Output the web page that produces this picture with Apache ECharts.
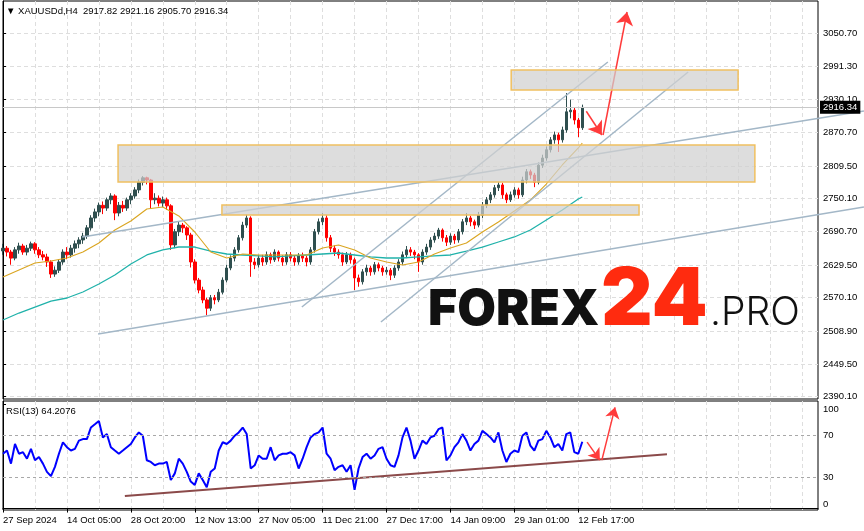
<!DOCTYPE html>
<html><head><meta charset="utf-8">
<script src="https://cdn.jsdelivr.net/npm/echarts@6/dist/echarts.min.js"></script>
<style>html,body{margin:0;padding:0;background:#fff}#c{width:864px;height:531px}</style>
</head><body><div id="c"></div><script>
const xLabels = ['27 Sep 2024','14 Oct 05:00','28 Oct 20:00','12 Nov 13:00','27 Nov 05:00','11 Dec 21:00','27 Dec 17:00','14 Jan 09:00','29 Jan 01:00','12 Feb 17:00'];
const priceTicks = [2390.10,2449.50,2508.90,2570.10,2629.50,2690.70,2750.10,2809.50,2870.70,2930.10,2991.30,3050.70];
const rsiTicks = [0,30,70,100];
const rsiLevels = [30,70];
// [open, close, low, high]
const candles = [
[2655,2660,2648,2668],[2660,2653,2645,2664],[2653,2642,2630,2657],[2642,2657,2638,2662],[2657,2664,2650,2670],
[2664,2653,2648,2668],[2653,2660,2647,2666],[2660,2668,2655,2672],[2668,2657,2650,2671],[2657,2648,2642,2662],
[2648,2644,2638,2655],[2644,2635,2626,2650],[2635,2613,2606,2638],[2613,2620,2608,2627],[2620,2635,2615,2640],
[2635,2653,2630,2658],[2653,2648,2640,2662],[2648,2660,2643,2666],[2660,2668,2652,2674],[2668,2675,2660,2680],
[2675,2682,2668,2688],[2682,2697,2677,2702],[2697,2715,2692,2720],[2715,2726,2708,2732],[2726,2738,2718,2743],
[2738,2733,2722,2745],[2733,2748,2728,2752],[2748,2755,2740,2760],[2755,2724,2711,2758],[2724,2738,2718,2744],
[2738,2733,2726,2746],[2733,2748,2728,2752],[2748,2755,2740,2760],[2755,2766,2750,2771],[2766,2780,2760,2785],
[2780,2788,2774,2791],[2788,2784,2776,2790],[2784,2748,2733,2786],[2748,2751,2740,2760],[2751,2742,2736,2756],
[2742,2748,2735,2754],[2748,2737,2730,2752],[2737,2666,2657,2740],[2666,2690,2660,2695],[2690,2702,2682,2708],
[2702,2697,2688,2706],[2697,2684,2675,2700],[2684,2635,2625,2688],[2635,2602,2596,2640],[2602,2584,2578,2606],
[2584,2566,2560,2590],[2566,2551,2538,2570],[2551,2570,2546,2575],[2570,2566,2558,2575],[2566,2580,2562,2586],
[2580,2602,2576,2607],[2602,2624,2598,2630],[2624,2642,2620,2647],[2642,2657,2636,2662],[2657,2679,2652,2684],
[2679,2702,2674,2708],[2702,2715,2697,2721],[2715,2635,2608,2718],[2635,2630,2622,2642],[2630,2642,2625,2648],
[2642,2635,2628,2648],[2635,2648,2630,2654],[2648,2639,2632,2652],[2639,2653,2635,2658],[2653,2642,2636,2656],
[2642,2635,2628,2647],[2635,2648,2630,2653],[2648,2642,2636,2653],[2642,2635,2628,2647],[2635,2646,2630,2651],
[2646,2642,2635,2652],[2642,2635,2627,2646],[2635,2657,2630,2662],[2657,2690,2652,2695],[2690,2708,2685,2714],
[2708,2715,2702,2724],[2715,2679,2672,2720],[2679,2660,2653,2684],[2660,2653,2646,2665],[2653,2648,2641,2658],
[2648,2635,2628,2652],[2635,2648,2631,2653],[2648,2639,2632,2652],[2639,2606,2584,2643],[2606,2599,2590,2612],
[2599,2617,2594,2622],[2617,2624,2610,2630],[2624,2617,2610,2628],[2617,2630,2612,2635],[2630,2624,2618,2634],
[2624,2617,2610,2628],[2617,2620,2612,2626],[2620,2611,2602,2624],[2611,2624,2606,2629],[2624,2635,2619,2640],
[2635,2648,2630,2654],[2648,2657,2642,2664],[2657,2653,2646,2662],[2653,2648,2640,2657],[2648,2635,2617,2651],
[2635,2653,2630,2658],[2653,2662,2648,2668],[2662,2675,2657,2680],[2675,2682,2670,2688],[2682,2693,2677,2697],
[2693,2679,2672,2696],[2679,2671,2664,2684],[2671,2682,2666,2687],[2682,2675,2668,2686],[2675,2690,2670,2695],
[2690,2708,2685,2713],[2708,2715,2702,2724],[2715,2708,2700,2719],[2708,2702,2695,2712],[2702,2720,2698,2726],
[2720,2738,2715,2744],[2738,2748,2733,2753],[2748,2757,2742,2762],[2757,2770,2752,2775],[2770,2775,2764,2780],
[2775,2757,2750,2779],[2757,2748,2742,2761],[2748,2757,2744,2763],[2757,2766,2752,2771],[2766,2757,2750,2770],
[2757,2784,2753,2790],[2784,2799,2778,2804],[2799,2793,2786,2803],[2793,2780,2771,2797],[2780,2811,2776,2816],
[2811,2824,2806,2830],[2824,2839,2819,2845],[2839,2857,2834,2862],[2857,2866,2850,2872],[2866,2857,2835,2870],
[2857,2875,2852,2881],[2875,2908,2870,2942],[2908,2911,2896,2930],[2911,2893,2885,2915],[2893,2879,2862,2897],
[2879,2916,2875,2921]
];
const maBars = [0,4,8,12,16,20,24,28,32,36,40,44,48,52,56,60,64,68,72,76,80,84,88,92,96,100,104,108,112,116,120,124,128,132,136,140,144,145];
const maFast = [2607.7,2620.4,2633.1,2636.8,2642.2,2653.1,2669.5,2693.1,2709.5,2731.3,2734.9,2718.6,2689.5,2653.1,2642.2,2649.5,2647.7,2647.7,2647.7,2647.7,2660.4,2665.8,2656.7,2642.2,2634.9,2629.5,2634.9,2649.5,2660.4,2669.5,2689.5,2707.6,2727.6,2747.6,2776.7,2811.3,2842.2,2851.3];
const maSlow = [2529.5,2542.2,2553.1,2564.0,2569.5,2580.4,2595.0,2611.3,2631.3,2647.7,2656.8,2662.2,2662.2,2654.9,2649.5,2647.7,2645.9,2644.1,2645.9,2647.7,2649.5,2651.3,2647.7,2644.1,2642.2,2642.2,2644.1,2645.9,2647.7,2654.9,2662.2,2671.3,2680.4,2693.1,2711.3,2729.5,2749.5,2753.1];
const rsi13 = [
52.7,55.8,43.2,62.1,52.7,54.2,47.9,57.4,46.4,49.5,
43.2,35.3,31.2,40.1,52.7,63.7,59.0,55.8,57.4,65.3,
66.8,66.8,77.9,81.0,84.2,68.4,71.6,59.0,55.8,52.7,
55.8,59.0,62.1,68.4,73.2,70.0,46.4,44.8,41.6,43.2,
43.2,44.8,27.4,33.8,47.9,43.2,35.3,25.9,22.7,33.8,
27.4,20.5,35.3,38.5,55.8,63.7,62.1,65.3,70.0,73.2,
77.9,71.6,38.5,41.6,51.1,47.9,47.9,59.0,46.4,51.1,
52.7,52.7,54.2,51.1,38.5,47.9,59.0,68.4,71.6,73.2,
77.9,52.7,47.9,36.9,40.1,41.6,35.3,41.6,18.0,38.5,
49.5,52.7,47.9,51.1,57.4,59.0,47.9,41.6,40.1,51.1,
68.4,77.9,65.3,47.9,55.8,65.3,62.1,68.4,70.0,76.3,
77.9,46.4,51.1,59.0,63.7,71.6,65.3,55.8,62.1,65.3,
74.7,71.6,68.4,63.7,73.2,55.8,44.8,52.7,55.8,54.2,
70.0,73.2,60.5,55.8,65.3,66.8,74.7,68.4,59.0,62.1,
55.8,71.6,73.2,54.2,52.7,64.2
];
const lastPrice = 2916.34;
// zones: [barFrom, priceTop, barTo, priceBottom]
const zones = [[127.2,2984.0,184.0,2947.6],[28.8,2847.7,188.2,2780.4],[54.8,2738.6,159.2,2720.4]];
// trend lines: [bar1, price1, bar2, price2]
const trendLines = [[23.8,2504.0,215.5,2734.9],[19.8,2680.4,215.5,2909.4],[74.8,2553.1,151.4,2998.5],[94.6,2525.9,171.5,2980.3]];
const priceArrows = [[146.0,2909.0,149.9,2865.8],[150.2,2865.8,156.2,3089.4]];
const rsiTrend = [30.5,12.1,166.2,52.3];
const rsiArrows = [[146.2,63.8,149.4,46.6],[149.9,46.6,153.2,97.3]];

const NCAT = 205;
const cats = [];
for (let i = 0; i < NCAT; i++) cats.push(String(i));
const labelAt = {};
xLabels.forEach((l, k) => { labelAt[String(k * 16)] = l; });

const FONT = "'Liberation Sans',Arial,sans-serif";
const FS = 9.5;
const gridLine = { color: '#dedede', type: [4, 3], width: 1 };
const TL = '#a3b7c7';
const RED = '#ff3b3b';

const chart = echarts.init(document.getElementById('c'), null, { renderer: 'canvas' });
const series = [];
series.push({
  type: 'candlestick', xAxisIndex: 0, yAxisIndex: 0, data: candles, barWidth: 3, z: 2,
  itemStyle: { color: '#2f4f4f', color0: '#ff0000', borderColor: '#2f4f4f', borderColor0: '#ff0000', borderWidth: 1 },
  markLine: { silent: true, symbol: 'none', animation: false,
    lineStyle: { color: '#c8c8c8', width: 1, type: 'solid' },
    label: { show: true, position: 'end', formatter: lastPrice.toFixed(2), backgroundColor: '#000', color: '#fff',
      padding: [2, 3, 1, 3], distance: 2, fontFamily: FONT, fontSize: FS },
    data: [{ yAxis: lastPrice }] }
});
series.push({ type: 'line', xAxisIndex: 0, yAxisIndex: 0, data: maBars.map((b, k) => [b, maSlow[k]]),
  symbol: 'none', lineStyle: { color: '#20b2aa', width: 1.3 }, z: 3 });
series.push({ type: 'line', xAxisIndex: 0, yAxisIndex: 0, data: maBars.map((b, k) => [b, maFast[k]]),
  symbol: 'none', lineStyle: { color: '#daa520', width: 1.1 }, z: 3 });
series.push({ type: 'line', xAxisIndex: 1, yAxisIndex: 0, data: [], z: 6,
  markArea: { silent: true, z: 6,
    itemStyle: { color: 'rgba(208,208,208,0.72)', borderColor: '#f0c060', borderWidth: 1.5 },
    data: zones.map(z => [{ coord: [z[0], z[1]] }, { coord: [z[2], z[3]] }]) } });
series.push({ type: 'line', xAxisIndex: 1, yAxisIndex: 0, data: [], z: 8, clip: false,
  markLine: { silent: true, symbol: ['none', 'arrow'], symbolSize: 13, label: { show: false },
    lineStyle: { color: RED, width: 1.5, type: 'solid' },
    data: priceArrows.map(a => [{ coord: [a[0], a[1]] }, { coord: [a[2], a[3]] }]) } });
series.push({ type: 'line', xAxisIndex: 2, yAxisIndex: 1, data: rsi13, symbol: 'none', z: 3,
  lineStyle: { color: '#0000ff', width: 2 },
  markLine: { silent: true, symbol: 'none', label: { show: false },
    lineStyle: { color: '#a8a8a8', width: 1, type: [3, 3] },
    data: rsiLevels.map(v => ({ yAxis: v })) } });
series.push({ type: 'line', xAxisIndex: 3, yAxisIndex: 1, symbol: 'none', z: 4, clip: false,
  data: [[rsiTrend[0], rsiTrend[1]], [rsiTrend[2], rsiTrend[3]]], lineStyle: { color: '#8b4a4a', width: 2 } });
series.push({ type: 'line', xAxisIndex: 3, yAxisIndex: 1, data: [], z: 8, clip: false,
  markLine: { silent: true, symbol: ['none', 'arrow'], symbolSize: 11, label: { show: false },
    lineStyle: { color: RED, width: 1.5, type: 'solid' },
    data: rsiArrows.map(a => [{ coord: [a[0], a[1]] }, { coord: [a[2], a[3]] }]) } });

const catAxis = (gi, labels) => ({
  type: 'category', gridIndex: gi, data: cats, boundaryGap: false,
  axisLine: { show: labels, lineStyle: { color: '#000' } },
  axisTick: { show: labels, interval: (i) => i % 16 === 0 && i <= 144, length: 4, lineStyle: { color: '#000' } },
  axisLabel: { show: labels, interval: (i) => i % 16 === 0 && i <= 144, align: 'left', margin: 5,
    formatter: (v) => labelAt[v] || '', color: '#000', fontFamily: FONT, fontSize: FS },
  splitLine: { show: true, interval: 7, lineStyle: gridLine }
});
const hidAxis = (gi) => ({ type: 'value', gridIndex: gi, min: 0, max: NCAT - 1, show: false });

const lblStyle = { color: '#000', fontFamily: FONT, fontSize: FS };
const baseGraphic = [
  { type: 'text', left: 6, top: 6, z: 20, style: { text: '▼ XAUUSDd,H4  2917.82 2921.16 2905.70 2916.34', fill: '#000', font: FS + "px " + FONT } },
  { type: 'text', left: 6, top: 406, z: 20, style: { text: 'RSI(13) 64.2076', fill: '#000', font: FS + "px " + FONT } },
  { type: 'text', x: 428, y: 310, z: 20, style: { text: 'FOREX', fill: '#111', font: "900 50px Inter, 'Open Sans', sans-serif", verticalAlign: 'middle', textAlign: 'left' } },
  { type: 'text', x: 601, y: 301, z: 20, style: { text: '24', fill: '#ff2b0f', font: "900 80px Inter, 'Open Sans', sans-serif", verticalAlign: 'middle', textAlign: 'left' } },
  { type: 'text', x: 710, y: 313, z: 20, style: { text: '.PRO', fill: '#111', font: "300 39px Inter, 'Open Sans', sans-serif", verticalAlign: 'middle', textAlign: 'left' } }
];
chart.setOption({
  animation: false,
  backgroundColor: '#fff',
  grid: [
    { left: 3, top: 1, width: 815, height: 398, show: true, borderColor: '#000', borderWidth: 1, backgroundColor: 'transparent' },
    { left: 3, top: 401, width: 815, height: 109, show: true, borderColor: '#000', borderWidth: 1, backgroundColor: 'transparent' }
  ],
  xAxis: [catAxis(0, false), hidAxis(0), catAxis(1, true), hidAxis(1)],
  yAxis: [
    { type: 'value', gridIndex: 0, position: 'right', min: 2385.9, max: 3109.4,
      axisLine: { show: true, lineStyle: { color: '#000' } },
      axisTick: { show: true, customValues: priceTicks, length: 3, lineStyle: { color: '#000' } },
      axisLabel: Object.assign({ customValues: priceTicks, margin: 5, formatter: (v) => v.toFixed(2) }, lblStyle),
      splitLine: { show: true, lineStyle: gridLine } },
    { type: 'value', gridIndex: 1, position: 'right', min: -1.4, max: 103.4,
      axisLine: { show: true, lineStyle: { color: '#000' } },
      axisTick: { show: true, customValues: rsiTicks, length: 3, lineStyle: { color: '#000' } },
      axisLabel: Object.assign({ customValues: rsiTicks, margin: 5,
        formatter: (v) => v === 100 ? '{dn|100}' : v === 0 ? '{up|0}' : String(v),
        rich: { dn: Object.assign({ padding: [9, 0, 0, 0] }, lblStyle), up: Object.assign({ padding: [0, 0, 9, 0] }, lblStyle) } }, lblStyle),
      splitLine: { show: false } }
  ],
  series: series,
  graphic: baseGraphic
});
// trend lines run past the price scale to the window edge, positioned through the chart's own scales
const trendGraphic = trendLines.map(t => {
  const p1 = chart.convertToPixel({ xAxisIndex: 1, yAxisIndex: 0 }, [t[0], t[1]]);
  const p2 = chart.convertToPixel({ xAxisIndex: 1, yAxisIndex: 0 }, [t[2], t[3]]);
  return { type: 'line', z: 4, silent: true,
    shape: { x1: p1[0], y1: p1[1], x2: p2[0], y2: p2[1] },
    style: { stroke: TL, lineWidth: 1.5 } };
});
chart.setOption({ graphic: baseGraphic.concat(trendGraphic) });
</script></body></html>
